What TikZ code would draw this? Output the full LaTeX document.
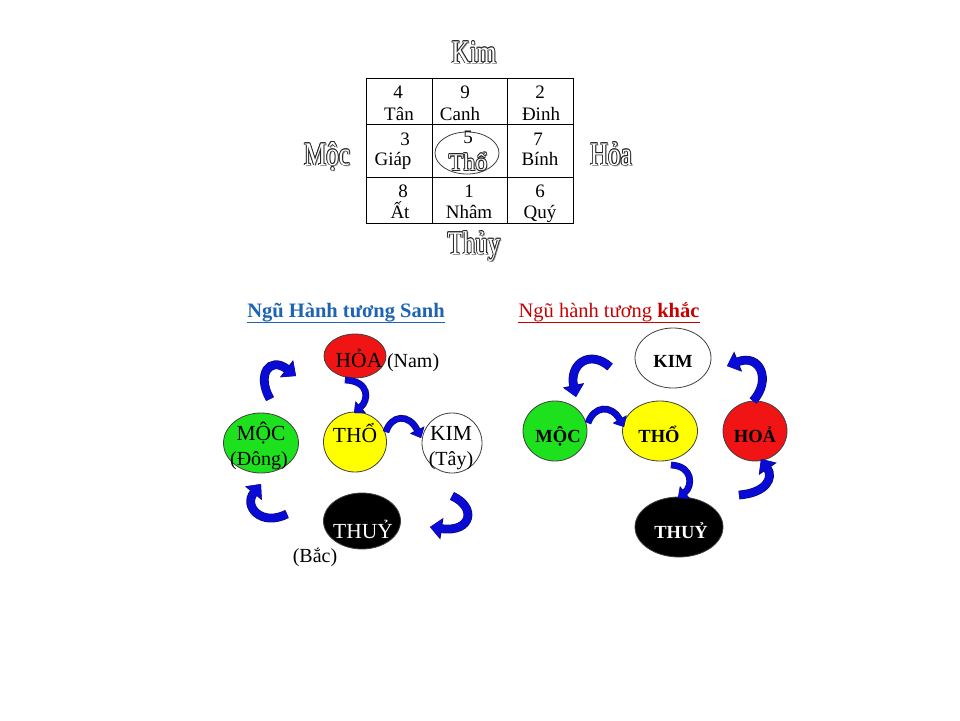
\documentclass[tikz,border=0pt]{standalone}
\usepackage{fontspec}
\setmainfont{Liberation Serif}
\newfontfamily\condfont[FakeStretch=0.76]{Liberation Serif}
\usetikzlibrary{arrows.meta,shapes.geometric}
\definecolor{arrblue}{RGB}{10,10,215}
\definecolor{arrnavy}{RGB}{10,10,110}
\definecolor{sanhblue}{RGB}{30,100,180}
\definecolor{khacred}{RGB}{200,0,0}
\definecolor{hoared}{RGB}{240,20,20}
\definecolor{mocgreen}{RGB}{30,225,30}
\definecolor{thoyellow}{RGB}{255,255,0}
\newcommand\oshift[4]{\makebox[0pt][l]{\hspace*{#1}\raisebox{#2}{\textcolor{#3}{#4}}}}
\newcommand\outl[1]{\oshift{1.4pt}{-1.2pt}{black!40}{#1}\oshift{0.8pt}{0pt}{black!85}{#1}\oshift{-0.8pt}{0pt}{black!85}{#1}\oshift{0pt}{0.8pt}{black!85}{#1}\oshift{0pt}{-0.8pt}{black!85}{#1}\oshift{0.57pt}{0.57pt}{black!85}{#1}\oshift{-0.57pt}{0.57pt}{black!85}{#1}\oshift{0.57pt}{-0.57pt}{black!85}{#1}\oshift{-0.57pt}{-0.57pt}{black!85}{#1}\textcolor{white}{#1}}
\tikzset{
  txt/.style={inner sep=0pt, outer sep=0pt, anchor=base, font=\fontsize{19}{19}\selectfont},
  big/.style={inner sep=0pt, outer sep=0pt, anchor=base, font=\condfont\fontsize{33}{33}\selectfont},
  ell/.style={ellipse, draw=black!75, line width=0.8pt, inner sep=0pt, outer sep=0pt},
  lbl/.style={inner sep=0pt, outer sep=0pt, anchor=base, font=\fontsize{20}{20}\selectfont},
  clbl/.style={inner sep=0pt, outer sep=0pt, anchor=base, font=\fontsize{21.5}{21.5}\selectfont},
  blbl/.style={inner sep=0pt, outer sep=0pt, anchor=base, font=\fontsize{18.5}{18.5}\selectfont\bfseries},
  barrow/.style={line width=7.5pt, arrblue, -{Triangle[length=11pt,width=19pt]},
     preaction={draw=arrnavy, line width=8.8pt, -{Triangle[length=12pt,width=21pt]}}},
  sarrow/.style={line width=5.5pt, arrblue, -{Triangle[length=8pt,width=14pt]},
     preaction={draw=arrnavy, line width=6.7pt, -{Triangle[length=9pt,width=15.5pt]}}}
}
\begin{document}
\begin{tikzpicture}[x=1pt,y=-1pt]
\useasboundingbox (0,0) rectangle (960,720);
\fill[white] (0,0) rectangle (960,720);

% ---- Lo Shu grid ----
\draw[line width=1pt] (366,78) rectangle (573,223);
\draw[line width=1pt] (432,78) -- (432,223) (507,78) -- (507,223)
      (366,124) -- (573,124) (366,177) -- (573,177);
\node[txt] (n4) at (398,98.5) {4};
\node[txt] (t4) at (399,120) {Tân};
\node[txt] (n9) at (465,98.5) {9};
\node[txt] (t9) at (460,120) {Canh};
\node[txt] (n2) at (540,98.5) {2};
\node[txt] (t2) at (541,120) {Đinh};
\node[txt] (n3) at (405,145) {3};
\node[txt] (t3) at (393,165.5) {Giáp};
\node[txt] (n5) at (468,143) {5};
\node[txt] (n7) at (538,145) {7};
\node[txt] (t7) at (540,165.5) {Bính};
\node[txt] (n8) at (403,197.5) {8};
\node[txt] (t8) at (400,218) {Ất};
\node[txt] (n1) at (469,197.5) {1};
\node[txt] (t1) at (469,218) {Nhâm};
\node[txt] (n6) at (540,197.5) {6};
\node[txt] (t6) at (540,218) {Quý};
\node[ell, minimum width=64pt, minimum height=42pt] (center) at (467,153) {};
\node[inner sep=0pt, anchor=base, font=\fontsize{24}{24}\selectfont] (tho5) at (468,170.5) {\outl{Thổ}};

\node[big] (kim) at (474,63) {\outl{Kim}};
\node[big] (moc) at (327,165) {\outl{Mộc}};
\node[big] (hoa) at (611,165) {\outl{Hỏa}};
\node[big] (thuy) at (474,254) {\outl{Thủy}};

% ---- Ngu hanh tuong sanh ----
\node[inner sep=0pt, anchor=base, font=\fontsize{20.5}{20.5}\selectfont\bfseries, text=sanhblue] (tsanh) at (346,317) {Ngũ Hành tương Sanh};
\draw[sanhblue, line width=1pt] ([yshift=-1pt]tsanh.south west) -- ([yshift=-1pt]tsanh.south east);

\node[ell, fill=hoared, minimum width=62pt, minimum height=44pt] (hoaL) at (355,356) {};
\node[ell, fill=thoyellow, minimum width=63pt, minimum height=60pt] (thoL) at (355,442) {};
\node[ell, fill=mocgreen, minimum width=75pt, minimum height=60pt] (mocL) at (261,443) {};
\node[ell, fill=white, minimum width=60pt, minimum height=60pt] (kimL) at (452,443) {};
\node[ell, fill=black, minimum width=77pt, minimum height=56pt] (thuyL) at (362,521) {};

\node[clbl] (hoaLt) at (359,367) {HỎA};
\node[lbl, anchor=base west] (nam) at (387,367) {(Nam)};
\node[clbl] (thoLt) at (355,442) {THỔ};
\node[clbl] (mocLt) at (261,440) {MỘC};
\node[lbl] (dong) at (259,465) {(Đông)};
\node[clbl] (kimLt) at (451,440) {KIM};
\node[lbl] (tay) at (451,465) {(Tây)};
\node[clbl, text=white] (thuyLt) at (363,538) {THUỶ};
\node[lbl] (bac) at (315,562) {(Bắc)};

\coordinate (l1s) at (270,399); \coordinate (l1e) at (296,376);
\coordinate (l2s) at (345,380); \coordinate (l2e) at (354,413);
\coordinate (l3s) at (386,432); \coordinate (l3e) at (421,438);
\coordinate (l4s) at (452,496); \coordinate (l4e) at (430,527);
\coordinate (l5s) at (287,514); \coordinate (l5e) at (261,484);
\draw[barrow] (l1s) .. controls (256,374) and (270,356) .. (l1e);
\draw[sarrow] (l2s) .. controls (370,381) and (369,400) .. (l2e);
\draw[sarrow] (l3s) .. controls (391,415) and (409,413) .. (l3e);
\draw[barrow] (l4s) .. controls (477,507) and (472,533) .. (l4e);
\draw[barrow] (l5s) .. controls (261,527) and (243,506) .. (l5e);

% ---- Ngu hanh tuong khac ----
\node[inner sep=0pt, anchor=base, font=\fontsize{20.5}{20.5}\selectfont, text=khacred] (tkhac) at (609,317) {Ngũ hành tương \textbf{khắc}};
\draw[khacred, line width=1pt] ([yshift=-1pt]tkhac.south west) -- ([yshift=-1pt]tkhac.south east);

\node[ell, fill=white, minimum width=76pt, minimum height=60pt] (kimR) at (673,358) {};
\node[ell, fill=mocgreen, minimum width=64pt, minimum height=60pt] (mocR) at (555,431) {};
\node[ell, fill=thoyellow, minimum width=75pt, minimum height=60pt] (thoR) at (660,431) {};
\node[ell, fill=hoared, minimum width=64pt, minimum height=60pt] (hoaR) at (755,431) {};
\node[ell, fill=black, minimum width=88pt, minimum height=60pt] (thuyR) at (679,527) {};

\node[blbl] (kimRt) at (673,367) {KIM};
\node[blbl] (mocRt) at (558,442) {MỘC};
\node[blbl] (thoRt) at (659,442) {THỔ};
\node[blbl] (hoaRt) at (755,442) {HOẢ};
\node[blbl, text=white] (thuyRt) at (681,538) {THUỶ};

\coordinate (r1s) at (610,367); \coordinate (r1e) at (576,397);
\coordinate (r2s) at (588,423); \coordinate (r2e) at (624,427);
\coordinate (r3s) at (671,465); \coordinate (r3e) at (678,498);
\coordinate (r4s) at (739,495); \coordinate (r4e) at (761,459);
\coordinate (r5s) at (753,401); \coordinate (r5e) at (727,366);
\draw[barrow] (r1s) .. controls (590,349) and (569,364) .. (r1e);
\draw[sarrow] (r2s) .. controls (594,406) and (611,404) .. (r2e);
\draw[sarrow] (r3s) .. controls (693,466) and (693,486) .. (r3e);
\draw[barrow] (r4s) .. controls (766,493) and (774,478) .. (r4e);
\draw[barrow] (r5s) .. controls (772,380) and (760,353) .. (r5e);
\end{tikzpicture}
\end{document}
